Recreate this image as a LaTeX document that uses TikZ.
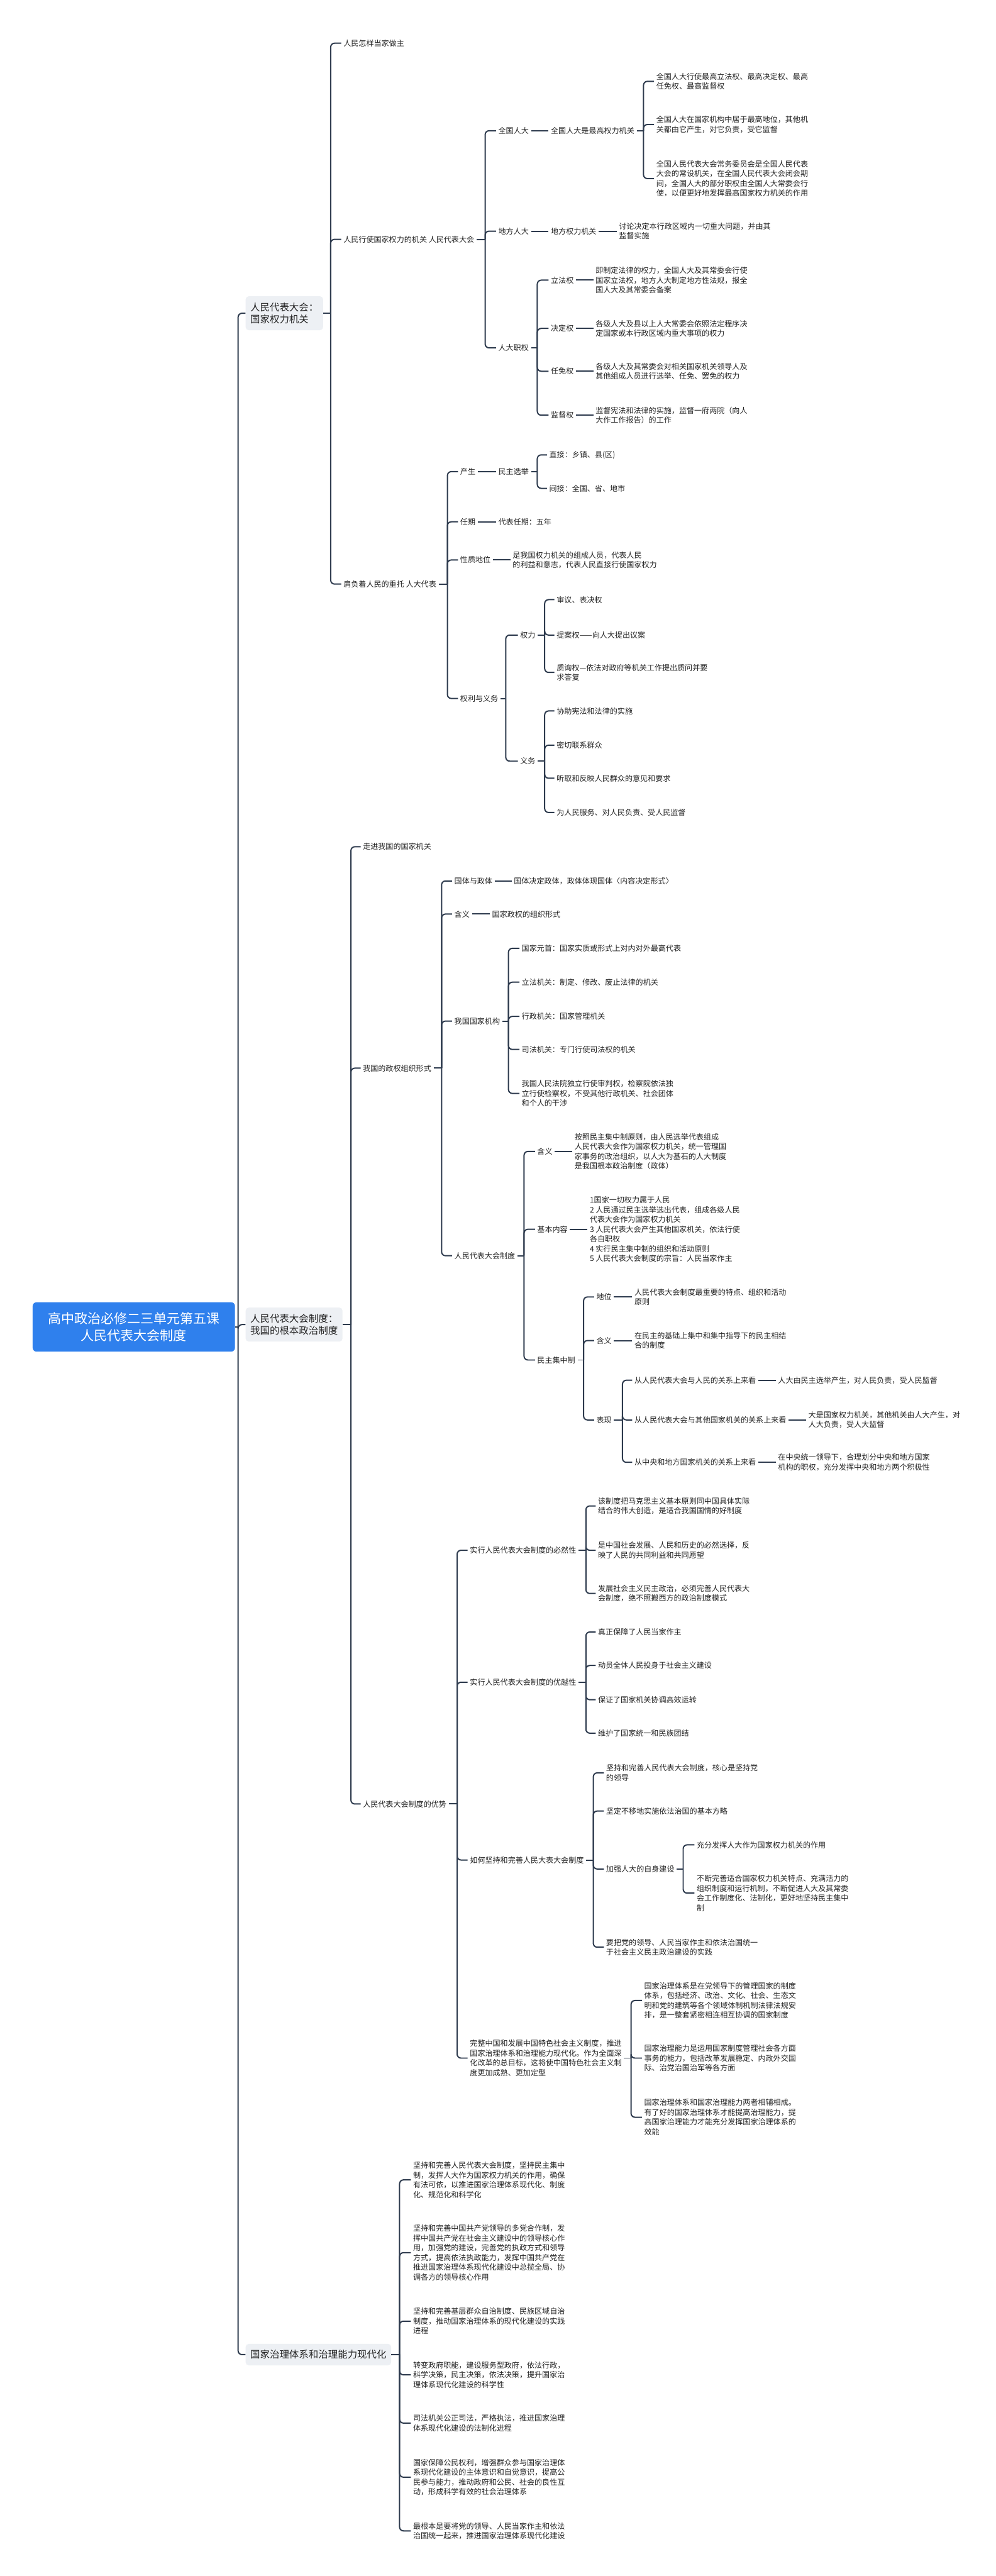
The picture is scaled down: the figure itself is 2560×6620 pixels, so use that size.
\documentclass[tikz,border=0pt]{standalone}
\usepackage{fontspec}
\setmainfont{Noto Sans CJK SC}
\definecolor{linec}{HTML}{2E3B4E}
\definecolor{txtc}{HTML}{222222}
\definecolor{boxc}{HTML}{EDF0F4}
\definecolor{rootc}{HTML}{2F80ED}
\tikzset{
 tx/.style={anchor=west, inner sep=0pt, outer sep=3pt, align=left, text=txtc, font=\fontsize{9.75pt}{12.5pt}\selectfont},
 lone/.style={anchor=west, fill=boxc, rounded corners=4pt, inner xsep=6pt, inner ysep=8pt, align=left, text=txtc, font=\fontsize{12.5pt}{16pt}\selectfont},
 rootbox/.style={fill=rootc, rounded corners=5pt, text=white, align=center, minimum width=260pt, minimum height=63.5pt, inner sep=0pt, font=\fontsize{17pt}{22pt}\selectfont},
 conn/.style={draw=linec, line width=1.6pt, rounded corners=5pt},
}
\newcommand\stub[2]{\path (#2,0) coordinate (#1-x); \draw[conn] (#1.east) -- (#1.east -| #1-x) coordinate (#1-t);}
\newcommand\kid[2]{\draw[conn] (#1-t) |- (#2.west);}
\newcommand\solo[2]{\draw[conn] (#1.east) -- (#2.west);}
\begin{document}
\begin{tikzpicture}[x=0.5pt,y=-0.5pt]
\fill[white] (0,0) rectangle (2560,6620);
\useasboundingbox (0,0) rectangle (2560,6620);

% root and level 1
\node[rootbox] (root) at (344,3410) {高中政治必修二三单元第五课\\人民代表大会制度};
\node[lone] (A) at (631,805) {人民代表大会：\\国家权力机关};
\node[lone] (B) at (631,3404) {人民代表大会制度：\\我国的根本政治制度};
\node[lone] (C) at (631,6051) {国家治理体系和治理能力现代化};
\stub{root}{612}
\kid{root}{A}\kid{root}{B}\kid{root}{C}

% ---------------- A ----------------
\node[tx] (a1) at (877,111) {人民怎样当家做主};
\node[tx] (a2) at (877,615) {人民行使国家权力的机关 人民代表大会};
\node[tx] (a3) at (877,1501) {肩负着人民的重托 人大代表};
\stub{A}{850}
\kid{A}{a1}\kid{A}{a2}\kid{A}{a3}

\node[tx] (a21) at (1275,336) {全国人大};
\node[tx] (a22) at (1275,594) {地方人大};
\node[tx] (a23) at (1275,894) {人大职权};
\stub{a2}{1247}
\kid{a2}{a21}\kid{a2}{a22}\kid{a2}{a23}

\node[tx] (a211) at (1410,336) {全国人大是最高权力机关};
\solo{a21}{a211}
\node[tx] (a2111) at (1681,209) {全国人大行使最高立法权、最高决定权、最高\\任免权、最高监督权};
\node[tx] (a2112) at (1681,320) {全国人大在国家机构中居于最高地位，其他机\\关都由它产生，对它负责，受它监督};
\node[tx] (a2113) at (1681,459) {全国人民代表大会常务委员会是全国人民代表\\大会的常设机关，在全国人民代表大会闭会期\\间，全国人大的部分职权由全国人大常委会行\\使，以便更好地发挥最高国家权力机关的作用};
\stub{a211}{1654}
\kid{a211}{a2111}\kid{a211}{a2112}\kid{a211}{a2113}

\node[tx] (a221) at (1410,594) {地方权力机关};
\node[tx] (a2211) at (1585,594) {讨论决定本行政区域内一切重大问题，并由其\\监督实施};
\solo{a22}{a221}\solo{a221}{a2211}

\node[tx] (a231) at (1410,720) {立法权};
\node[tx] (a232) at (1410,844) {决定权};
\node[tx] (a233) at (1410,954) {任免权};
\node[tx] (a234) at (1410,1067) {监督权};
\stub{a23}{1381}
\kid{a23}{a231}\kid{a23}{a232}\kid{a23}{a233}\kid{a23}{a234}
\node[tx] (a2311) at (1525,720) {即制定法律的权力，全国人大及其常委会行使\\国家立法权，地方人大制定地方性法规，报全\\国人大及其常委会备案};
\node[tx] (a2321) at (1525,844) {各级人大及县以上人大常委会依照法定程序决\\定国家或本行政区域内重大事项的权力};
\node[tx] (a2331) at (1525,954) {各级人大及其常委会对相关国家机关领导人及\\其他组成人员进行选举、任免、罢免的权力};
\node[tx] (a2341) at (1525,1067) {监督宪法和法律的实施，监督一府两院（向人\\大作工作报告）的工作};
\solo{a231}{a2311}\solo{a232}{a2321}\solo{a233}{a2331}\solo{a234}{a2341}

\node[tx] (a31) at (1177,1212) {产生};
\node[tx] (a32) at (1177,1341) {任期};
\node[tx] (a33) at (1177,1439) {性质地位};
\node[tx] (a34) at (1177,1795) {权利与义务};
\stub{a3}{1150}
\kid{a3}{a31}\kid{a3}{a32}\kid{a3}{a33}\kid{a3}{a34}

\node[tx] (a311) at (1275,1212) {民主选举};
\solo{a31}{a311}
\node[tx] (a3111) at (1406,1169) {直接：乡镇、县(区)};
\node[tx] (a3112) at (1406,1255) {间接：全国、省、地市};
\stub{a311}{1381}
\kid{a311}{a3111}\kid{a311}{a3112}

\node[tx] (a321) at (1275,1341) {代表任期：五年};
\solo{a32}{a321}
\node[tx] (a331) at (1312,1439) {是我国权力机关的组成人员，代表人民\\的利益和意志，代表人民直接行使国家权力};
\solo{a33}{a331}

\node[tx] (a341) at (1331,1632) {权力};
\node[tx] (a342) at (1331,1956) {义务};
\stub{a34}{1300}
\kid{a34}{a341}\kid{a34}{a342}
\node[tx] (a3411) at (1425,1541) {审议、表决权};
\node[tx] (a3412) at (1425,1632) {提案权——向人大提出议案};
\node[tx] (a3413) at (1425,1728) {质询权—依法对政府等机关工作提出质问并要\\求答复};
\stub{a341}{1400}
\kid{a341}{a3411}\kid{a341}{a3412}\kid{a341}{a3413}
\node[tx] (a3421) at (1425,1827) {协助宪法和法律的实施};
\node[tx] (a3422) at (1425,1915) {密切联系群众};
\node[tx] (a3423) at (1425,2000) {听取和反映人民群众的意见和要求};
\node[tx] (a3424) at (1425,2088) {为人民服务、对人民负责、受人民监督};
\stub{a342}{1400}
\kid{a342}{a3421}\kid{a342}{a3422}\kid{a342}{a3423}\kid{a342}{a3424}

% ---------------- B ----------------
\node[tx] (b1) at (927,2176) {走进我国的国家机关};
\node[tx] (b2) at (927,2745) {我国的政权组织形式};
\node[tx] (b3) at (927,4636) {人民代表大会制度的优势};
\stub{B}{902}
\kid{B}{b1}\kid{B}{b2}\kid{B}{b3}

\node[tx] (b21) at (1162,2264) {国体与政体};
\node[tx] (b22) at (1162,2349) {含义};
\node[tx] (b23) at (1162,2624) {我国国家机构};
\node[tx] (b24) at (1162,3227) {人民代表大会制度};
\stub{b2}{1135}
\kid{b2}{b21}\kid{b2}{b22}\kid{b2}{b23}\kid{b2}{b24}
\node[tx] (b211) at (1315,2264) {国体决定政体，政体体现国体〈内容决定形式〉};
\node[tx] (b221) at (1259,2349) {国家政权的组织形式};
\solo{b21}{b211}\solo{b22}{b221}

\node[tx] (b231) at (1335,2437) {国家元首：国家实质或形式上对内对外最高代表};
\node[tx] (b232) at (1335,2524) {立法机关：制定、修改、废止法律的机关};
\node[tx] (b233) at (1335,2612) {行政机关：国家管理机关};
\node[tx] (b234) at (1335,2697) {司法机关：专门行使司法权的机关};
\node[tx] (b235) at (1335,2810) {我国人民法院独立行使审判权，检察院依法独\\立行使检察权，不受其他行政机关、社会团体\\和个人的干涉};
\stub{b23}{1307}
\kid{b23}{b231}\kid{b23}{b232}\kid{b23}{b233}\kid{b23}{b234}\kid{b23}{b235}

\node[tx] (b241) at (1375,2959) {含义};
\node[tx] (b242) at (1375,3159) {基本内容};
\node[tx] (b243) at (1375,3495) {民主集中制};
\stub{b24}{1347}
\kid{b24}{b241}\kid{b24}{b242}\kid{b24}{b243}
\node[tx] (b2411) at (1471,2959) {按照民主集中制原则，由人民选举代表组成\\人民代表大会作为国家权力机关，统一管理国\\家事务的政治组织，以人大为基石的人大制度\\是我国根本政治制度（政体）};
\node[tx] (b2421) at (1510,3159) {1国家一切权力属于人民\\2 人民通过民主选举选出代表，组成各级人民\\代表大会作为国家权力机关\\3 人民代表大会产生其他国家机关，依法行使\\各自职权\\4 实行民主集中制的组织和活动原则\\5 人民代表大会制度的宗旨：人民当家作主};
\solo{b241}{b2411}\solo{b242}{b2421}

\node[tx] (b2431) at (1527,3333) {地位};
\node[tx] (b2432) at (1527,3445) {含义};
\node[tx] (b2433) at (1527,3649) {表现};
\stub{b243}{1500}
\kid{b243}{b2431}\kid{b243}{b2432}\kid{b243}{b2433}
\node[tx] (b24311) at (1625,3333) {人民代表大会制度最重要的特点、组织和活动\\原则};
\node[tx] (b24321) at (1625,3445) {在民主的基础上集中和集中指导下的民主相结\\合的制度};
\solo{b2431}{b24311}\solo{b2432}{b24321}

\node[tx] (b24331) at (1625,3547) {从人民代表大会与人民的关系上来看};
\node[tx] (b24332) at (1625,3649) {从人民代表大会与其他国家机关的关系上来看};
\node[tx] (b24333) at (1625,3758) {从中央和地方国家机关的关系上来看};
\stub{b2433}{1600}
\kid{b2433}{b24331}\kid{b2433}{b24332}\kid{b2433}{b24333}
\node[tx] (b243311) at (1994,3547) {人大由民主选举产生，对人民负责，受人民监督};
\node[tx] (b243321) at (2072,3649) {大是国家权力机关，其他机关由人大产生，对\\人大负责，受人大监督};
\node[tx] (b243331) at (1994,3758) {在中央统一领导下，合理划分中央和地方国家\\机构的职权，充分发挥中央和地方两个积极性};
\solo{b24331}{b243311}\solo{b24332}{b243321}\solo{b24333}{b243331}

\node[tx] (b31) at (1202,3984) {实行人民代表大会制度的必然性};
\node[tx] (b32) at (1202,4323) {实行人民代表大会制度的优越性};
\node[tx] (b33) at (1202,4780) {如何坚持和完善人民大表大会制度};
\node[tx] (b34) at (1202,5289) {完整中国和发展中国特色社会主义制度，推进\\国家治理体系和治理能力现代化。作为全面深\\化改革的总目标，这将使中国特色社会主义制\\度更加成熟、更加定型};
\stub{b3}{1175}
\kid{b3}{b31}\kid{b3}{b32}\kid{b3}{b33}\kid{b3}{b34}

\node[tx] (b311) at (1531,3870) {该制度把马克思主义基本原则同中国具体实际\\结合的伟大创造，是适合我国国情的好制度};
\node[tx] (b312) at (1531,3984) {是中国社会发展、人民和历史的必然选择，反\\映了人民的共同利益和共同愿望};
\node[tx] (b313) at (1531,4095) {发展社会主义民主政治，必须完善人民代表大\\会制度，绝不照搬西方的政治制度模式};
\stub{b31}{1506}
\kid{b31}{b311}\kid{b31}{b312}\kid{b31}{b313}

\node[tx] (b321) at (1531,4194) {真正保障了人民当家作主};
\node[tx] (b322) at (1531,4280) {动员全体人民投身于社会主义建设};
\node[tx] (b323) at (1531,4368) {保证了国家机关协调高效运转};
\node[tx] (b324) at (1531,4454) {维护了国家统一和民族团结};
\stub{b32}{1506}
\kid{b32}{b321}\kid{b32}{b322}\kid{b32}{b323}\kid{b32}{b324}

\node[tx] (b331) at (1552,4556) {坚持和完善人民代表大会制度，核心是坚持党\\的领导};
\node[tx] (b332) at (1552,4654) {坚定不移地实施依法治国的基本方略};
\node[tx] (b333) at (1552,4803) {加强人大的自身建设};
\node[tx] (b334) at (1552,5004) {要把党的领导、人民当家作主和依法治国统一\\于社会主义民主政治建设的实践};
\stub{b33}{1525}
\kid{b33}{b331}\kid{b33}{b332}\kid{b33}{b333}\kid{b33}{b334}
\node[tx] (b3331) at (1785,4741) {充分发挥人大作为国家权力机关的作用};
\node[tx] (b3332) at (1785,4865) {不断完善适合国家权力机关特点、充满活力的\\组织制度和运行机制，不断促进人大及其常委\\会工作制度化、法制化，更好地坚持民主集中\\制};
\stub{b333}{1756}
\kid{b333}{b3331}\kid{b333}{b3332}

\node[tx] (b341) at (1650,5141) {国家治理体系是在党领导下的管理国家的制度\\体系，包括经济、政治、文化、社会、生态文\\明和党的建筑等各个领域体制机制法律法规安\\排，是一整套紧密相连相互协调的国家制度};
\node[tx] (b342) at (1650,5289) {国家治理能力是运用国家制度管理社会各方面\\事务的能力，包括改革发展稳定、内政外交国\\际、治党治国治军等各方面};
\node[tx] (b343) at (1650,5441) {国家治理体系和国家治理能力两者相辅相成。\\有了好的国家治理体系才能提高治理能力，提\\高国家治理能力才能充分发挥国家治理体系的\\效能};
\stub{b34}{1622}
\kid{b34}{b341}\kid{b34}{b342}\kid{b34}{b343}

% ---------------- C ----------------
\node[tx] (c1) at (1056,5602) {坚持和完善人民代表大会制度，坚持民主集中\\制，发挥人大作为国家权力机关的作用，确保\\有法可依，以推进国家治理体系现代化、制度\\化、规范化和科学化};
\node[tx] (c2) at (1056,5789) {坚持和完善中国共产党领导的多党合作制，发\\挥中国共产党在社会主义建设中的领导核心作\\用，加强党的建设，完善党的执政方式和领导\\方式，提高依法执政能力，发挥中国共产党在\\推进国家治理体系现代化建设中总揽全局、协\\调各方的领导核心作用};
\node[tx] (c3) at (1056,5965) {坚持和完善基层群众自治制度、民族区域自治\\制度，推动国家治理体系的现代化建设的实践\\进程};
\node[tx] (c4) at (1056,6103) {转变政府职能，建设服务型政府，依法行政，\\科学决策，民主决策，依法决策，提升国家治\\理体系现代化建设的科学性};
\node[tx] (c5) at (1056,6227) {司法机关公正司法，严格执法，推进国家治理\\体系现代化建设的法制化进程};
\node[tx] (c6) at (1056,6366) {国家保障公民权利，增强群众参与国家治理体\\系现代化建设的主体意识和自觉意识，提高公\\民参与能力，推动政府和公民、社会的良性互\\动，形成科学有效的社会治理体系};
\node[tx] (c7) at (1056,6504) {最根本是要将党的领导、人民当家作主和依法\\治国统一起来，推进国家治理体系现代化建设};
\stub{C}{1027}
\kid{C}{c1}\kid{C}{c2}\kid{C}{c3}\kid{C}{c4}\kid{C}{c5}\kid{C}{c6}\kid{C}{c7}
\end{tikzpicture}
\end{document}
